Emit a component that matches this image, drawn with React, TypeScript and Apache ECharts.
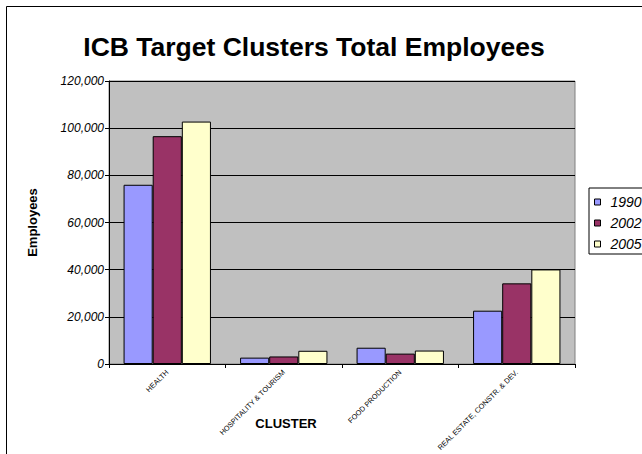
import React, { useEffect, useRef } from "react";
import * as echarts from "echarts";

const categories = ["HEALTH", "HOSPITALITY & TOURISM", "FOOD PRODUCTION", "REAL ESTATE, CONSTR. & DEV."];
const seriesNames = ["1990", "2002", "2005"];
const values1990 = [76000, 2700, 6900, 22600];
const values2002 = [96600, 3200, 4400, 34200];
const values2005 = [102800, 5600, 5700, 40100];
const colors = ["#9999FF", "#993366", "#FFFFCC"];
const yTicks = { min: 0, max: 120000, interval: 20000 };

const FONT = "Arial, 'Liberation Sans', sans-serif";

export default function App() {
  const ref = useRef<HTMLDivElement>(null);
  useEffect(() => {
    if (!ref.current) return;
    const chart = echarts.init(ref.current, null, { renderer: "svg" });
    const data = [values1990, values2002, values2005];
    chart.setOption({
      animation: false,
      backgroundColor: "#ffffff",
      title: {
        text: "ICB Target Clusters Total Employees",
        left: 309,
        top: 28,
        textAlign: "center",
        textStyle: { fontFamily: FONT, fontSize: 26.5, fontWeight: "bold", color: "#000" },
      },
      legend: {
        orient: "vertical",
        left: 589,
        top: 188,
        padding: [7, 40, 3, 5],
        itemGap: 7,
        itemWidth: 6,
        itemHeight: 6,
        borderColor: "#000",
        borderWidth: 1,
        backgroundColor: "#fff",
        icon: "rect",
        itemStyle: { borderColor: "#000", borderWidth: 1 },
        textStyle: { fontFamily: FONT, fontSize: 14, fontStyle: "italic", color: "#000", lineHeight: 14, padding: [0, 0, 0, 5] },
        data: seriesNames,
      },
      grid: {
        left: 109,
        top: 81,
        right: 67,
        bottom: 90,
        outerBoundsMode: "none",
        containLabel: false,
        show: true,
        backgroundColor: "#C0C0C0",
        borderColor: "#808080",
        borderWidth: 1,
      },
      xAxis: {
        type: "category",
        data: categories,
        axisLine: { lineStyle: { color: "#000", width: 1 } },
        axisTick: { show: true, length: 4, lineStyle: { color: "#000" } },
        axisLabel: {
          rotate: 45,
          interval: 0,
          margin: 7,
          fontFamily: FONT,
          fontSize: 7.3,
          color: "#000",
        },
      },
      yAxis: {
        type: "value",
        min: yTicks.min,
        max: yTicks.max,
        interval: yTicks.interval,
        name: "Employees",
        nameLocation: "middle",
        nameGap: 70,
        nameTextStyle: { fontFamily: FONT, fontSize: 13, fontWeight: "bold", color: "#000" },
        axisLine: { show: true, lineStyle: { color: "#000", width: 1 } },
        axisTick: { show: true, length: 4, lineStyle: { color: "#000" } },
        axisLabel: {
          margin: 5,
          fontFamily: FONT,
          fontSize: 12,
          fontStyle: "italic",
          color: "#000",
          formatter: (v: number) => v.toLocaleString("en-US"),
        },
        splitLine: { show: true, lineStyle: { color: "#000", width: 1 } },
      },
      series: seriesNames.map((name, i) => ({
        name,
        type: "bar",
        data: data[i],
        barGap: "0%",
        barCategoryGap: "25%",
        itemStyle: { color: colors[i], borderColor: "#000", borderWidth: 1 },
      })),
      graphic: [
        {
          type: "rect",
          shape: { x: 6.5, y: 6.5, width: 700, height: 500 },
          style: { fill: "none", stroke: "#000", lineWidth: 1 },
          silent: true,
        },
        {
          type: "text",
          x: 286,
          y: 423,
          style: {
            text: "CLUSTER",
            fontFamily: FONT,
            fontSize: 13,
            fontWeight: "bold",
            fill: "#000",
            align: "center",
            verticalAlign: "middle",
          },
        },
      ],
    });
    return () => chart.dispose();
  }, []);
  return <div ref={ref} style={{ position: "fixed", left: 0, top: 0, width: 642, height: 454 }} />;
}
